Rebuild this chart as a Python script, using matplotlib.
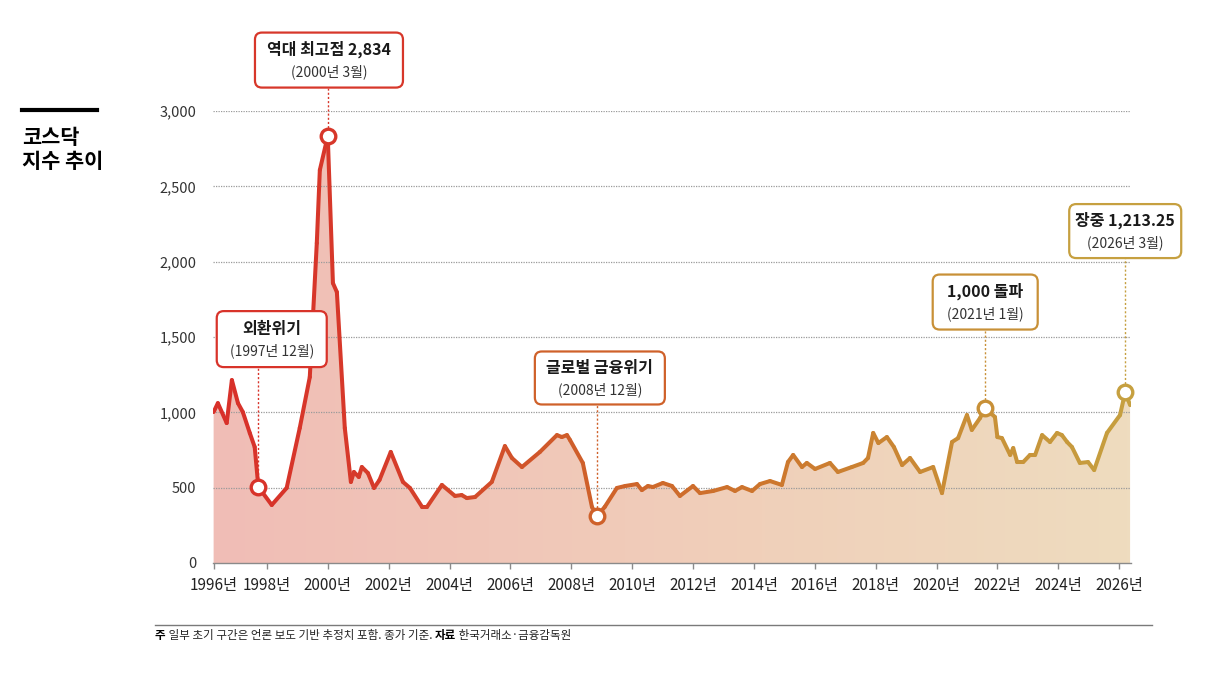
import numpy as np
import matplotlib.pyplot as plt
import matplotlib.transforms as mtransforms
from matplotlib.collections import LineCollection
from matplotlib.colors import LinearSegmentedColormap
from matplotlib.patches import Polygon, FancyBboxPatch
from matplotlib.lines import Line2D

plt.rcParams['font.family'] = ['Noto Sans CJK KR', 'DejaVu Sans']

# KOSDAQ index (year as decimal, index value)
years = [1996.25, 1996.39, 1996.68, 1996.85, 1997.05, 1997.21, 1997.44, 1997.60, 1997.72,
         1998.16, 1998.65, 1999.08, 1999.41, 1999.64, 1999.74, 2000.00, 2000.17, 2000.30,
         2000.56, 2000.76, 2000.86, 2001.02, 2001.12, 2001.32, 2001.52, 2001.70, 2002.07,
         2002.47, 2002.70, 2003.10, 2003.26, 2003.75, 2004.18, 2004.40, 2004.57, 2004.84,
         2005.39, 2005.82, 2006.05, 2006.38, 2006.97, 2007.53, 2007.69, 2007.86, 2007.96,
         2008.38, 2008.68, 2008.85, 2009.10, 2009.50, 2009.77, 2010.16, 2010.32, 2010.52,
         2010.68, 2011.01, 2011.31, 2011.57, 2012.00, 2012.23, 2012.66, 2013.12, 2013.38,
         2013.61, 2013.94, 2014.20, 2014.53, 2014.92, 2015.12, 2015.29, 2015.58, 2015.74,
         2016.01, 2016.50, 2016.76, 2017.22, 2017.59, 2017.75, 2017.92, 2018.09, 2018.37,
         2018.60, 2018.87, 2019.13, 2019.46, 2019.89, 2020.18, 2020.51, 2020.71, 2021.00,
         2021.16, 2021.43, 2021.60, 2021.92, 2022.00, 2022.15, 2022.42, 2022.52, 2022.65,
         2022.85, 2023.07, 2023.24, 2023.47, 2023.73, 2023.96, 2024.12, 2024.29, 2024.45,
         2024.71, 2024.98, 2025.18, 2025.60, 2026.03, 2026.20, 2026.36]
values = [1002, 1061, 929, 1214, 1061, 1002, 862, 770, 505,
          385, 498, 896, 1234, 2123, 2608, 2834, 1858, 1798,
          896, 538, 604, 571, 637, 597, 498, 551, 737,
          538, 498, 372, 372, 518, 445, 451, 431, 438,
          538, 776, 697, 637, 737, 849, 836, 849, 816,
          664, 372, 312, 372, 498, 511, 524, 484, 511,
          504, 531, 511, 445, 511, 464, 478, 504, 478,
          504, 478, 524, 544, 518, 670, 717, 637, 664,
          624, 664, 604, 637, 664, 697, 863, 796, 836,
          770, 650, 697, 604, 637, 464, 803, 829, 982,
          883, 962, 1029, 969, 836, 829, 717, 763, 670,
          670, 717, 717, 849, 803, 863, 849, 803, 770,
          664, 670, 617, 863, 982, 1135, 1048]

# highlighted events (index into the series) and their labels
event_idx = [8, 15, 47, 92, 113]
event_title = ['외환위기', '역대 최고점 2,834', '글로벌 금융위기', '1,000 돌파', '장중 1,213.25']
event_sub = ['(1997년 12월)', '(2000년 3월)', '(2008년 12월)', '(2021년 1월)', '(2026년 3월)']

tick_years = [1996, 1998, 2000, 2002, 2004, 2006, 2008, 2010, 2012,
              2014, 2016, 2018, 2020, 2022, 2024, 2026]
y_ticks = [0, 500, 1000, 1500, 2000, 2500, 3000]

# box layout: centre (data coords) and size in pixels
box_center = [(1998.16, 1486), (2000.04, 3338), (2008.94, 1228), (2021.6, 1732), (2026.2, 2203)]
box_size = [(110, 56), (148, 55), (130, 53), (105, 55), (112, 54)]

x = np.array(years)
y = np.array(values)

W, H = 1205, 673
fig = plt.figure(figsize=(W / 100, H / 100), dpi=100)
ax = fig.add_axes([213 / W, 1 - 563 / H, (1131 - 213) / W, (563 - 111) / H])

x0, x1 = 1996.23, 2026.39
ax.set_xlim(x0, x1)
ax.set_ylim(0, 3000)

line_cmap = LinearSegmentedColormap.from_list('ln', [
    (0.0, '#d8302a'), (0.2, '#d63c2a'), (0.4, '#cf5f2a'),
    (0.6, '#cd762d'), (0.8, '#c98c35'), (1.0, '#c6a040')])
fill_cmap = LinearSegmentedColormap.from_list('fl', [
    (0.0, '#f0bdb6'), (0.3, '#f1c6b8'), (0.6, '#f0d0ba'), (1.0, '#eedcbf')])

# gradient fill under the line
poly = Polygon(np.column_stack([np.r_[x[0], x, x[-1]], np.r_[0, y, 0]]),
               closed=True, facecolor='none', edgecolor='none')
ax.add_patch(poly)
grad = np.linspace(0, 1, 256).reshape(1, -1)
im = ax.imshow(grad, cmap=fill_cmap, aspect='auto', extent=[x0, x1, 0, 3000],
               origin='lower', zorder=1)
im.set_clip_path(poly)

# grid
for v in y_ticks[1:]:
    ax.axhline(v, color='#9a9a9a', lw=0.9, linestyle=(0, (1, 1)), zorder=2)

# gradient line
pts = np.column_stack([x, y]).reshape(-1, 1, 2)
segs = np.concatenate([pts[:-1], pts[1:]], axis=1)
norm_x = ((x[:-1] + x[1:]) / 2 - x0) / (x1 - x0)
lc = LineCollection(segs, colors=line_cmap(norm_x), linewidths=2.9,
                    capstyle='round', joinstyle='round', zorder=4)
ax.add_collection(lc)

# axes styling
for s in ['left', 'right', 'top']:
    ax.spines[s].set_visible(False)
ax.spines['bottom'].set_color('#8a8a8a')
ax.spines['bottom'].set_linewidth(1)
ax.set_yticks(y_ticks)
ax.set_yticklabels([f'{v:,}' for v in y_ticks])
ax.tick_params(axis='y', length=0, pad=12, labelsize=10.5, labelcolor='#333333')
ax.set_xticks([x[0]] + tick_years[1:])
ax.set_xticklabels([f'{t}년' for t in tick_years])
ax.tick_params(axis='x', length=4, width=1, color='#8a8a8a', pad=6,
               labelsize=11, labelcolor='#222222')

# annotations
for i, idx in enumerate(event_idx):
    mx, my = x[idx], y[idx]
    c = line_cmap((mx - x0) / (x1 - x0))
    cx, cy = box_center[i]
    bw, bh = box_size[i]
    ax.plot([mx, mx], [my, cy], color=c, lw=1, linestyle=(0, (1.5, 1.5)),
            zorder=3, clip_on=False)
    tr = (mtransforms.Affine2D().scale(1 / 100) + fig.dpi_scale_trans
          + mtransforms.ScaledTranslation(cx, cy, ax.transData))
    box = FancyBboxPatch((-bw / 2, -bh / 2), bw, bh,
                         boxstyle='round,pad=0,rounding_size=7',
                         transform=tr, facecolor='white', edgecolor=c,
                         lw=1.6, zorder=6, clip_on=False)
    ax.add_patch(box)
    ax.annotate(event_title[i], xy=(cx, cy), xytext=(0, 7.5), textcoords='offset points',
                ha='center', va='center', fontsize=11.5, fontweight='bold',
                color='#1a1a1a', zorder=7, annotation_clip=False)
    ax.annotate(event_sub[i], xy=(cx, cy), xytext=(0, -8.5), textcoords='offset points',
                ha='center', va='center', fontsize=10, color='#333333',
                zorder=7, annotation_clip=False)
    ax.plot(mx, my, 'o', ms=10.5, mfc='white', mec=c, mew=2.4, zorder=8, clip_on=False)

# title block
fig.add_artist(Line2D([22 / W, 97 / W], [1 - 110 / H] * 2, transform=fig.transFigure,
                      color='black', lw=3))
fig.text(22 / W, 1 - 137 / H, '코스닥', fontsize=15, fontweight='bold', va='center')
fig.text(22 / W, 1 - 162 / H, '지수 추이', fontsize=15, fontweight='bold', va='center')

# footnote
fig.add_artist(Line2D([155 / W, 1152 / W], [1 - 625 / H] * 2, transform=fig.transFigure,
                      color='#7a7a7a', lw=1))
t1 = fig.text(155 / W, 1 - 636 / H, '주', fontsize=8.3, fontweight='bold', va='center')
t2 = fig.text(0, 0, ' 일부 초기 구간은 언론 보도 기반 추정치 포함. 종가 기준. ', fontsize=8.3,
              color='#222222', va='center')
t2.set_position((1, 0.5))
t2.set_transform(mtransforms.offset_copy(fig.transFigure, fig=fig, x=0, y=0))
t2.remove()
a2 = plt.annotate(' 일부 초기 구간은 언론 보도 기반 추정치 포함. 종가 기준. ', xy=(1, 0.5),
                  xycoords=t1, va='center', ha='left', fontsize=8.3, color='#222222')
a3 = plt.annotate('자료', xy=(1, 0.5), xycoords=a2, va='center', ha='left',
                  fontsize=8.3, fontweight='bold')
plt.annotate(' 한국거래소·금융감독원', xy=(1, 0.5), xycoords=a3, va='center', ha='left',
             fontsize=8.3, color='#222222')

fig.savefig('out.png', dpi=100, facecolor='white')
